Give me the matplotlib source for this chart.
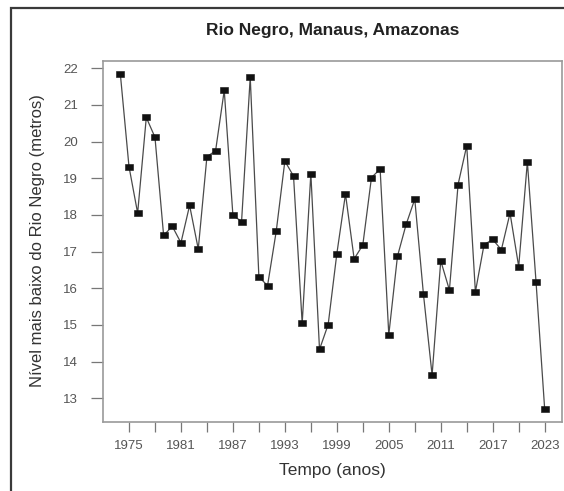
import matplotlib
matplotlib.use("Agg")
import matplotlib.pyplot as plt
from matplotlib.patches import Rectangle

plt.rcParams['font.family'] = ['Liberation Sans', 'DejaVu Sans']

years = list(range(1974, 2024))
levels = [
    21.85, 19.32, 18.05, 20.66, 20.12, 17.44, 17.69, 17.24, 18.26, 17.07,
    19.59, 19.75, 21.40, 17.99, 17.82, 21.76, 16.31, 16.07, 17.55, 19.47,
    19.06, 15.04, 19.13, 14.33, 15.01, 16.94, 18.57, 16.80, 17.18, 19.02,
    19.25, 14.73, 16.87, 17.74, 18.43, 15.84, 13.63, 16.75, 15.95, 18.83,
    19.89, 15.90, 17.19, 17.33, 17.05, 18.05, 16.59, 19.45, 16.18, 12.70,
]
x_ticks = list(range(1975, 2024, 3))
x_labels = [str(y) if (y - 1975) % 6 == 0 else "" for y in x_ticks]
y_ticks = list(range(13, 23))

title = "Rio Negro, Manaus, Amazonas"
xlabel = "Tempo (anos)"
ylabel = "Nível mais baixo do Rio Negro (metros)"

fig = plt.figure(figsize=(5.64, 4.91), dpi=100)
ax = fig.add_axes([103 / 564, 1 - 422 / 491, (562 - 103) / 564, (422 - 61) / 491])

# outer frame around the figure panel
fig.patches.append(Rectangle((11 / 564, -0.05), 1.2, 1 - 8 / 491 + 0.05,
                             transform=fig.transFigure, fill=False,
                             edgecolor="#3a3a3a", linewidth=1.6, zorder=0))

# wide rectangular marker
sq = [(-1, -0.66), (1, -0.66), (1, 0.66), (-1, 0.66), (-1, -0.66)]
ax.plot(years, levels, color="#4a4a4a", linewidth=0.9,
        marker=sq, markersize=6.3, markerfacecolor="#111111",
        markeredgecolor="#111111", markeredgewidth=0.4)

ax.set_xlim(1972.0, 2025.0)
ax.set_ylim(12.35, 22.2)
ax.set_xticks(x_ticks)
ax.set_xticklabels(x_labels)
ax.set_yticks(y_ticks)

for s in ax.spines.values():
    s.set_color("#9a9a9a")
    s.set_linewidth(1.2)

ax.tick_params(axis="x", direction="out", length=7, width=0.9, color="#777777",
               labelsize=9.5, labelcolor="#555555", pad=6)
ax.tick_params(axis="y", direction="out", length=9, width=0.9, color="#777777",
               labelsize=9.5, labelcolor="#555555", pad=9)

fig.text((103 + 562) / 2 / 564, 1 - 31 / 491, title, ha="center", va="center",
         fontsize=12.5, fontweight="bold", color="#222222")
fig.text((103 + 562) / 2 / 564, 1 - 470 / 491, xlabel, ha="center", va="center",
         fontsize=12.5, color="#333333")
fig.text(38 / 564, 1 - 241 / 491, ylabel, ha="center", va="center",
         rotation=90, fontsize=12, color="#333333")

fig.savefig("out.png", dpi=100)
